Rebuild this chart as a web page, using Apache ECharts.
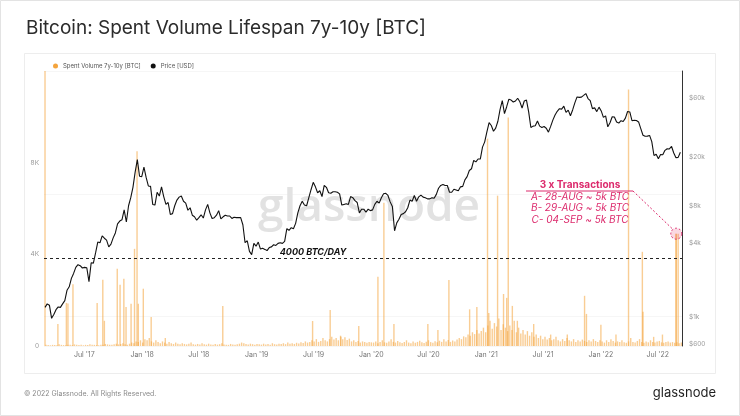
<!DOCTYPE html>
<html><head><meta charset="utf-8">
<script src="https://cdn.jsdelivr.net/npm/echarts@6/dist/echarts.min.js"></script>
<style>html,body{margin:0;padding:0;background:#fff}#c{width:740px;height:416px}</style>
</head><body><div id="c"></div>
<script>
const FONT = 'Inter, Roboto, "Noto Sans", sans-serif';

// ---------- DATA ----------
const titleText = 'Bitcoin: Spent Volume Lifespan 7y-10y [BTC]';
const volumeName = 'Spent Volume 7y-10y [BTC]';
const priceName = 'Price [USD]';
const firstWeek = '2017-02-26'; // weekly samples start here

// BTC price (USD), weekly
const price2017 = [1190,1270,1240,970,1040,1140,1200,1190,1270,1350,1640,1750,2050,2250,2520,2650,2600,2490,2520,2500,1930,2750,2730,3300,4050,4000,4550,4350,4200,3700,3900,4380,4800,5700,6000,6150,7400,5900,8000,9300,11300,15000,19000,13900,13800];
const price2018 = [16500,13600,11600,11500,8200,8100,10300,9600,11400,9500,8200,8500,6800,6900,8000,8900,9400,9600,8700,8400,7350,7700,6700,6500,6100,6400,6750,6350,7400,8200,7000,6300,6400,6700,7300,6250,6500,6700,6600,6600,6300,6450,6400,6400,6400,5600,4000,4150,3400,3200,3950,3750];
const price2019 = [4050,3550,3600,3530,3450,3650,3700,3850,3800,3950,4000,3950,4100,5200,5050,5300,5200,5750,7000,8000,8700,8100,8000,9300,10800,12400,11400,10200,10600,9500,11700,11300,10200,10100,10400,10400,10300,10000,8100,8200,8300,8200,9500,9300,8800,8500,7000,7500,7500,7100,7500,7300];
const price2020 = [7400,8200,8700,8400,9300,10000,10100,9700,8600,7900,5000,5800,6200,6800,6900,7150,7700,8900,8700,9700,8700,9450,9750,9400,9300,9100,9100,9300,9200,9900,11100,11700,11900,11700,11700,10300,10300,10900,10750,10600,11400,11500,13000,13800,15500,16000,18700,18200,19200,19200,24000,26500];
const price2021 = [32000,38000,36000,32300,34300,39000,48700,57500,45000,51200,59000,58000,55900,57000,60000,56100,50000,57000,58000,46500,34700,35600,35800,39100,35600,34700,35300,34200,31800,35400,39800,43800,47000,49300,48900,51700,46000,48000,43200,48200,55000,61500,61000,61300,63300,65500,59700,57300,49400,50100,46700,50800];
const price2022 = [47300,41900,43100,35100,37900,42400,42200,38400,37700,39400,38800,41300,46800,46400,39400,39700,39500,38500,34000,30000,29400,29500,29900,26600,20500,21000,19300,20900,20800,22600,23300,23200,24300,21500,19700,19800,21800];

// Spent volume 7y-10y (BTC), weekly background level
const vol2017 = [60,40,30,50,40,30,80,50,40,30,60,50,40,70,50,40,60,30,50,40,80,60,50,40,30,60,50,90,70,60,50,80,100,70,90,120,80,60,100,150,120,200,180,250,150];
const vol2018 = [300,250,350,200,150,250,180,120,200,150,100,180,120,90,150,100,80,120,90,70,100,150,80,60,90,70,120,80,60,100,70,50,90,60,80,120,70,60,50,90,70,60,80,100,150,120,90,70,100,80,60,90];
const vol2019 = [80,60,100,70,90,60,120,80,70,100,90,120,80,150,100,120,90,140,110,160,130,200,150,180,250,200,300,180,220,350,250,200,300,400,280,350,250,450,300,380,260,320,200,250,180,220,150,200,170,140,180,160];
const vol2020 = [150,200,120,180,250,160,140,200,300,180,150,220,160,130,180,250,150,120,200,140,180,230,160,130,190,250,170,140,210,160,230,180,300,200,260,180,240,200,280,350,300,420,380,500,450,600,520,700,550,650,800,600];
const vol2021 = [900,1100,750,1000,850,1200,700,950,800,650,900,700,1100,600,800,550,700,500,650,450,600,400,500,350,450,300,400,280,350,250,300,400,250,200,300,220,350,250,200,300,180,250,200,280,220,180,250,200,300,220,180,250];
const vol2022 = [200,150,250,180,300,220,150,200,180,250,160,140,200,350,180,150,220,300,170,140,200,160,250,180,150,200,220,160,140,180,200,150,170,140,160,120,150];

// Single-day spikes (date, BTC)
const spikeDates = ['2017-02-26','2017-04-08','2017-05-05','2017-05-10','2017-05-26','2017-08-11','2017-08-29','2017-09-03','2017-10-14','2017-10-23','2017-11-04','2017-11-11','2017-11-27','2017-12-08','2017-12-16','2017-12-20','2018-01-05','2018-01-30','2018-03-16','2018-09-15','2019-06-28','2019-08-23','2019-09-26','2019-11-22','2020-01-22','2020-02-10','2020-03-13','2020-06-29','2020-07-31','2020-09-04','2020-11-09','2020-12-02','2021-01-05','2021-01-09','2021-02-06','2021-02-25','2021-03-07','2021-03-12','2021-03-25','2021-04-10','2021-06-01','2021-07-25','2021-09-16','2021-11-10','2021-11-16','2022-01-01','2022-02-18','2022-03-30','2022-05-13','2022-05-15','2022-06-18','2022-07-16','2022-08-28','2022-08-29','2022-09-04'];
const spikeValues = [12000,960,1880,1850,2700,1880,2890,1100,3370,2670,2930,1700,1840,4240,8500,1840,2500,1270,350,1750,1090,1570,400,870,3020,6250,960,960,700,2880,1600,1700,9050,1440,6560,2270,2100,9970,1750,1100,960,500,500,2190,1400,930,500,11190,4110,1500,400,500,4900,4900,4900];

const xLabelDates = ['2017-07-01','2018-01-01','2018-07-01','2019-01-01','2019-07-01','2020-01-01','2020-07-01','2021-01-01','2021-07-01','2022-01-01','2022-07-01'];
const xLabelTexts = ["Jul '17","Jan '18","Jul '18","Jan '19","Jul '19","Jan '20","Jul '20","Jan '21","Jul '21","Jan '22","Jul '22"];
const leftTicks = [0,4000,8000];
const leftTickTexts = ['0','4K','8K'];
const rightTicks = [600,1000,4000,8000,20000,60000];
const rightTickTexts = ['$600','$1k','$4k','$8k','$20k','$60k'];

const thresholdValue = 3850;
const thresholdText = '4000 BTC/DAY';
const annotTitle = '3 x Transactions';
const annotLines = ['A- 28-AUG ~ 5k BTC','B- 29-AUG ~ 5k BTC','C- 04-SEP ~ 5k BTC'];
const annotTarget = ['2022-08-29', 4900];
const xMin = '2017-02-25', xMax = '2022-09-14';

// ---------- BUILD ----------
const DAY = 864e5;
const t0 = Date.parse(firstWeek + 'T00:00:00Z');
const ts = d => Date.parse(d + 'T00:00:00Z');
const priceAll = [].concat(price2017,price2018,price2019,price2020,price2021,price2022);
const volAll = [].concat(vol2017,vol2018,vol2019,vol2020,vol2021,vol2022);
const priceData = priceAll.map((v,i)=>[t0 + i*7*DAY, v]);
const volData = volAll.map((v,i)=>[t0 + i*7*DAY + 3*DAY, v])
  .concat(spikeDates.map((d,i)=>[ts(d), spikeValues[i]]))
  .sort((a,b)=>a[0]-b[0]);

const ORANGE = '#f4a43c';
const PINK = '#dc2a6c';

const chart = echarts.init(document.getElementById('c'), null, {renderer:'canvas'});
const option = {
  animation: false,
  backgroundColor: '#fff',
  textStyle: {fontFamily: FONT},
  title: {text: titleText, left: 21, top: 14, textStyle: {fontFamily: FONT, fontSize: 19, fontWeight: 'normal', color: '#2b2b2b'}},
  legend: {
    left: 48, top: 58, itemWidth: 5, itemHeight: 5, itemGap: 10, icon: 'circle',
    textStyle: {fontSize: 6, color: '#555'},
    data: [{name: volumeName, itemStyle:{color: ORANGE, opacity:1}}, {name: priceName, itemStyle:{color:'#111'}}]
  },
  grid: {left: 44, right: 58, top: 71, bottom: 70},
  xAxis: {
    type: 'time', min: ts(xMin), max: ts(xMax),
    axisLine: {show: false}, axisTick: {show: false}, splitLine: {show: false},
    axisLabel: {show: false}
  },
  yAxis: [
    {type: 'value', min: 0, max: 12000, interval: 4000, position: 'left',
     axisLine: {show:false}, axisTick:{show:false}, splitLine:{show:false},
     axisLabel: {fontSize: 6.5, color: '#999', margin: 5,
       formatter: v => { const i = leftTicks.indexOf(v); return i >= 0 ? leftTickTexts[i] : ''; }}},
    {type: 'log', logBase: 10, min: 577, max: 100000, position: 'right',
     axisLine: {show: true, lineStyle: {color: '#333', width: 1}}, axisTick: {show:false},
     splitLine: {show: true, lineStyle: {color: '#f6f6f6', width: 1}},
     axisLabel: {show: false}}
  ],
  series: [
    {name: volumeName, type: 'bar', yAxisIndex: 0, data: volData, barWidth: 1.4,
     itemStyle: {color: ORANGE, opacity: 0.55}, z: 2,
     markLine: {silent: true, symbol: 'none', animation: false,
       lineStyle: {type: [3,3], color: '#222', width: 1}, label: {show: false},
       data: [{yAxis: thresholdValue}]}},
    {name: priceName, type: 'line', yAxisIndex: 1, data: priceData, showSymbol: false,
     lineStyle: {color: '#111', width: 1.1}, itemStyle: {color: '#111'}, z: 3}
  ]
};
chart.setOption(option);

// labels and decorations placed with the chart's own scales
const g = [
  {type:'rect', shape:{x:0.5,y:0.5,width:739,height:415}, style:{fill:'none', stroke:'#e3e3e3', lineWidth:1}, silent:true, z:-10},
  {type:'rect', shape:{x:24.5,y:53.5,width:691,height:320}, style:{fill:'none', stroke:'#ededed', lineWidth:1}, silent:true, z:-10},
  {type:'text', x:369, y:208, style:{text:'glassnode', fontFamily:'"Open Sans", Inter, sans-serif', fontSize:46, fontWeight:600, fill:'#e2e2e2', align:'center', verticalAlign:'middle'}, silent:true, z:0},
  {type:'text', x:24, y:394, style:{text:'© 2022 Glassnode. All Rights Reserved.', fontFamily:FONT, fontSize:7, fill:'#8a8a8a', verticalAlign:'middle'}, silent:true},
  {type:'text', x:716, y:393, style:{text:'glassnode', fontFamily:FONT, fontSize:13, fill:'#1e1e1e', align:'right', verticalAlign:'middle'}, silent:true}
];
const bottomY = chart.convertToPixel({yAxisIndex:0}, 0);
xLabelDates.forEach((d,i)=>{
  const x = chart.convertToPixel({xAxisIndex:0}, ts(d));
  g.push({type:'text', x:x, y:bottomY + 9, style:{text:xLabelTexts[i], fontFamily:FONT, fontSize:7, fill:'#777', align:'center', verticalAlign:'middle'}, silent:true});
});
const rightX = chart.getWidth() - 58;
rightTicks.forEach((v,i)=>{
  const y = chart.convertToPixel({yAxisIndex:1}, v);
  g.push({type:'text', x:rightX + 7, y:y, style:{text:rightTickTexts[i], fontFamily:FONT, fontSize:6.5, fill:'#999', align:'left', verticalAlign:'middle'}, silent:true});
});
const tgt = chart.convertToPixel({xAxisIndex:0, yAxisIndex:0}, [ts(annotTarget[0]), annotTarget[1]]);
const thrY = chart.convertToPixel({yAxisIndex:0}, thresholdValue);
const ax = 580, ay = 185;
g.push(
  {type:'text', x:313, y:thrY - 5, style:{text:thresholdText, fontFamily:FONT, fontSize:9, fontWeight:'bold', fontStyle:'italic', fill:'#111', align:'center', verticalAlign:'middle'}, silent:true, z:10},
  {type:'text', x:ax, y:ay, style:{text:annotTitle, fontFamily:FONT, fontSize:10, fontWeight:'bold', fill:PINK, align:'center', verticalAlign:'middle'}, silent:true, z:10},
  {type:'line', shape:{x1:526, y1:191, x2:633, y2:191}, style:{stroke:PINK, lineWidth:1}, silent:true, z:10},
  {type:'line', shape:{x1:633, y1:191, x2:tgt[0]-3, y2:tgt[1]-4}, style:{stroke:PINK, lineWidth:1, lineDash:[2,2]}, silent:true, z:10},
  {type:'circle', shape:{cx:tgt[0], cy:tgt[1], r:5.5}, style:{fill:'rgba(230,60,110,0.2)', stroke:PINK, lineWidth:1, lineDash:[2,2]}, silent:true, z:10}
);
annotLines.forEach((t,i)=>g.push({type:'text', x:ax, y:ay + 11.5 + i*11.5, style:{text:t, fontFamily:FONT, fontSize:10, fontStyle:'italic', fill:PINK, align:'center', verticalAlign:'middle'}, silent:true, z:10}));
chart.setOption({graphic: g});
</script>
</body></html>
